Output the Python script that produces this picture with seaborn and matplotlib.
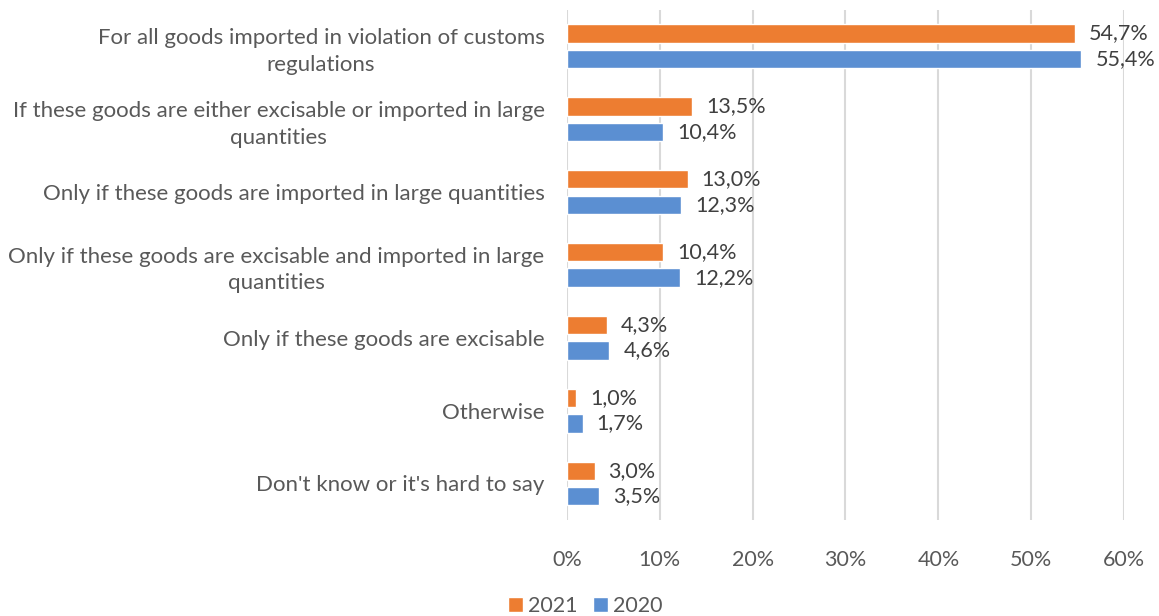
import matplotlib
matplotlib.use("Agg")
import matplotlib.pyplot as plt
import seaborn as sns
import pandas as pd
from matplotlib.ticker import FuncFormatter

# Survey answers (two-line labels keep the left margin compact)
categories = [
    "For all goods imported in violation of customs\nregulations",
    "If these goods are either excisable or imported in large\nquantities",
    "Only if these goods are imported in large quantities",
    "Only if these goods are excisable and imported in large\nquantities",
    "Only if these goods are excisable",
    "Otherwise",
    "Don't know or it's hard to say",
]
years = ["2021", "2020"]
values_2021 = [54.7, 13.5, 13.0, 10.4, 4.3, 1.0, 3.0]
values_2020 = [55.4, 10.4, 12.3, 12.2, 4.6, 1.7, 3.5]
x_ticks = [0, 10, 20, 30, 40, 50, 60]

palette = {"2021": "#ED7D31", "2020": "#5B8FD2"}

df = pd.DataFrame({
    "category": categories * 2,
    "year": [years[0]] * len(categories) + [years[1]] * len(categories),
    "value": values_2021 + values_2020,
})

sns.set_theme(style="white")
plt.rcParams["font.family"] = ["Lato", "DejaVu Sans"]

text_grey = "#595959"
value_grey = "#404040"
fs = 15.5
fs_cat = 16

fig = plt.figure(figsize=(11.59, 6.16), dpi=100)
ax = fig.add_axes([0.489, 0.156, 0.481, 0.828])

sns.barplot(
    data=df, x="value", y="category", hue="year", hue_order=years,
    palette=palette, orient="h", width=0.7, gap=0.28, ax=ax,
    saturation=1,
)

# Value labels at the end of each bar, decimal comma
for container, vals in zip(ax.containers, [values_2021, values_2020]):
    ax.bar_label(
        container,
        labels=[f"{v:.1f}%".replace(".", ",") for v in vals],
        padding=10, fontsize=fs, color=value_grey,
    )

ax.set_xlim(x_ticks[0], x_ticks[-1])
ax.set_xticks(x_ticks)
ax.xaxis.set_major_formatter(FuncFormatter(lambda v, _: f"{v:.0f}%"))
ax.grid(axis="x", color="#D9D9D9", linewidth=1.5)
ax.set_axisbelow(True)
for side in ["top", "right", "bottom", "left"]:
    ax.spines[side].set_visible(False)

ax.set_xlabel("")
ax.set_ylabel("")
ax.tick_params(axis="x", length=0, pad=22, labelsize=fs, labelcolor=text_grey)
ax.tick_params(axis="y", length=0, pad=16, labelsize=fs_cat, labelcolor=text_grey)
for lbl in ax.get_yticklabels():
    lbl.set_linespacing(1.4)
    lbl.set_horizontalalignment("right")
    lbl.set_multialignment("center")

handles, labels = ax.get_legend_handles_labels()
ax.get_legend().remove()
fig.legend(
    handles, labels, loc="lower center", bbox_to_anchor=(0.505, -0.032),
    ncol=2, frameon=False, fontsize=fs, handlelength=0.7, handleheight=0.7,
    handletextpad=0.25, columnspacing=0.7, labelcolor=text_grey,
)

fig.savefig("out.png", dpi=100)
